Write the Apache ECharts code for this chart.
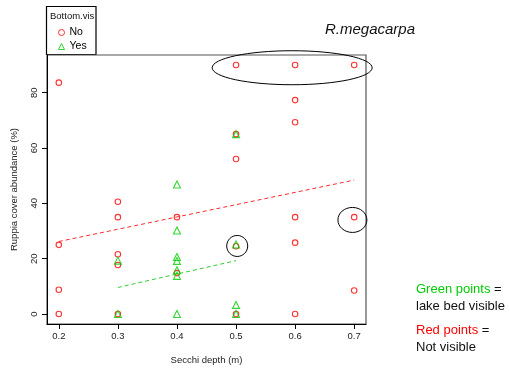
<!DOCTYPE html>
<html>
<head>
<meta charset="utf-8">
<script src="https://cdn.jsdelivr.net/npm/echarts@6/dist/echarts.min.js"></script>
<style>html,body{margin:0;background:#fff}#chart{width:510px;height:370px}</style>
</head>
<body>
<div id="chart"></div>
<script>
// Secchi depth vs Ruppia cover, split by Bottom.vis
const xTicks = [0.2, 0.3, 0.4, 0.5, 0.6, 0.7];
const yTicks = [0, 20, 40, 60, 80];

// Bottom.vis = No (red circles)
const notVisible = [
  [0.2, 83.6], [0.2, 25], [0.2, 8.8], [0.2, 0],
  [0.3, 40.6], [0.3, 35], [0.3, 21.6], [0.3, 17.7], [0.3, 0],
  [0.4, 35], [0.4, 14.8],
  [0.5, 90], [0.5, 65], [0.5, 56], [0.5, 24.5], [0.5, 0],
  [0.6, 90], [0.6, 77.3], [0.6, 69.3], [0.6, 35], [0.6, 25.8], [0.6, 0],
  [0.7, 90], [0.7, 35], [0.7, 8.5]
];
// Bottom.vis = Yes (green triangles)
const visible = [
  [0.3, 19.3], [0.3, 0],
  [0.4, 46.8], [0.4, 30.2], [0.4, 20.6], [0.4, 19.2], [0.4, 15.8], [0.4, 13.8], [0.4, 0],
  [0.5, 65], [0.5, 25.1], [0.5, 3.3], [0.5, 0]
];
// fitted lines
const fitNo = [[0.2, 26.2], [0.7, 48.4]];
const fitYes = [[0.3, 9.6], [0.5, 19.3]];

// hand-drawn rings: centre in data units, radii in px
const rings = [
  { x: 0.595, y: 89, rx: 80, ry: 17 },
  { x: 0.697, y: 34, rx: 14.5, ry: 12.5 },
  { x: 0.502, y: 24.6, rx: 10.5, ry: 10.5 }
];

const RED = '#ff0000';
const GREEN = '#00cd00';
const FONT = 'Liberation Sans';

const chart = echarts.init(document.getElementById('chart'));

chart.setOption({
  animation: false,
  textStyle: { fontFamily: FONT },
  grid: {
    left: 47, top: 55, width: 319, height: 272,
    show: true, borderColor: '#555', borderWidth: 1.2, backgroundColor: 'transparent'
  },
  legend: {
    orient: 'vertical',
    left: 58, top: 27, padding: 0,
    itemWidth: 6, itemHeight: 6, itemGap: 3,
    itemStyle: { borderWidth: 1 },
    textStyle: { fontSize: 10.5, color: '#000', fontFamily: FONT },
    data: ['No', 'Yes']
  },
  xAxis: {
    type: 'value',
    min: 0.18, max: 0.72,
    splitLine: { show: false },
    axisLine: { onZero: false, lineStyle: { color: '#000', width: 1 } },
    axisTick: { show: true, length: 5, customValues: xTicks, lineStyle: { color: '#000' } },
    axisLabel: { customValues: xTicks, fontSize: 9.5, color: '#222', margin: 7, formatter: v => v.toFixed(1) },
    name: 'Secchi depth (m)',
    nameLocation: 'middle',
    nameGap: 31,
    nameTextStyle: { fontSize: 9.5, color: '#222' }
  },
  yAxis: {
    type: 'value',
    min: -3.6, max: 93.6,
    splitLine: { show: false },
    axisLine: { onZero: false, lineStyle: { color: '#000', width: 1 } },
    axisTick: { show: true, length: 5, customValues: yTicks, lineStyle: { color: '#000' } },
    axisLabel: { customValues: yTicks, fontSize: 9.5, color: '#222', rotate: 90, margin: 8 },
    name: 'Ruppia cover abundance (%)',
    nameLocation: 'middle',
    nameGap: 28,
    nameTextStyle: { fontSize: 9.5, color: '#222' }
  },
  series: [
    {
      name: 'No', type: 'scatter', data: notVisible,
      symbol: 'circle', symbolSize: 5.5,
      itemStyle: { color: 'rgba(255,255,255,0)', borderColor: RED, borderWidth: 1.1 }
    },
    {
      name: 'Yes', type: 'scatter', data: visible,
      symbol: 'triangle', symbolSize: 7,
      itemStyle: { color: 'rgba(255,255,255,0)', borderColor: GREEN, borderWidth: 1.1 }
    },
    {
      name: 'fitNo', type: 'line', data: fitNo, symbol: 'none',
      lineStyle: { color: '#ff2a2a', width: 1, type: [4, 3] }
    },
    {
      name: 'fitYes', type: 'line', data: fitYes, symbol: 'none',
      lineStyle: { color: '#33cc33', width: 1, type: [4, 3] }
    }
  ]
});

// legend frame, title and side notes, plus the rings
const graphics = [
  {
    type: 'rect', shape: { x: 46.5, y: 6.5, width: 49.5, height: 48 },
    style: { fill: '#fff', stroke: '#000', lineWidth: 1.2 }, z: -1
  },
  {
    type: 'text', left: 50, top: 11,
    style: { text: 'Bottom.vis', fontSize: 9.5, fontFamily: FONT, fill: '#111' }
  },
  {
    type: 'text', left: 325, top: 22,
    style: { text: 'R.megacarpa', fontSize: 15, fontStyle: 'italic', fontFamily: FONT, fill: '#111' }
  },
  {
    type: 'text', left: 416, top: 281,
    style: {
      text: '{g|Green points} =\nlake bed visible',
      fontSize: 13, fontFamily: FONT, fill: '#111', lineHeight: 17,
      rich: { g: { fill: GREEN, fontSize: 13, fontFamily: FONT } }
    }
  },
  {
    type: 'text', left: 416, top: 322,
    style: {
      text: '{r|Red points} =\nNot visible',
      fontSize: 13, fontFamily: FONT, fill: '#111', lineHeight: 17,
      rich: { r: { fill: RED, fontSize: 13, fontFamily: FONT } }
    }
  }
];

rings.forEach(r => {
  const [cx, cy] = chart.convertToPixel({ gridIndex: 0 }, [r.x, r.y]);
  graphics.push({
    type: 'ellipse',
    shape: { cx: cx, cy: cy, rx: r.rx, ry: r.ry },
    style: { fill: 'none', stroke: '#000', lineWidth: 1 },
    z: 10
  });
});

chart.setOption({ graphic: graphics });
</script>
</body>
</html>
